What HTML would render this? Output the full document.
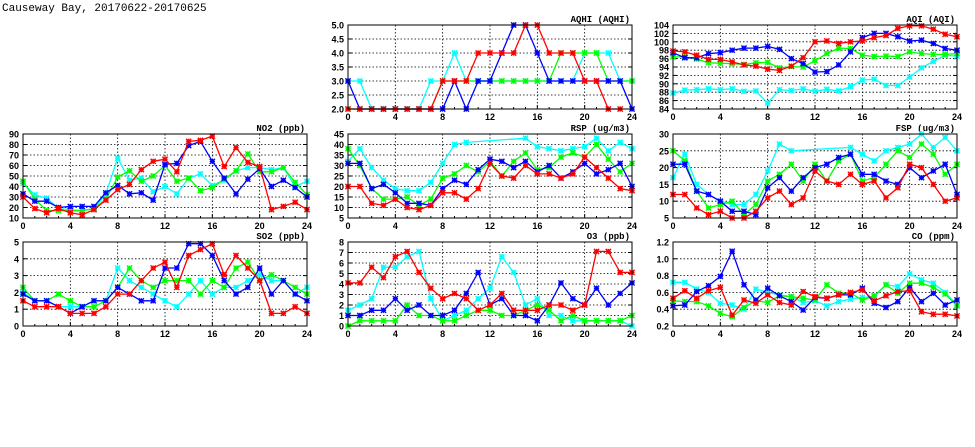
<!DOCTYPE html>
<html><head><meta charset="utf-8">
<style>
html,body{margin:0;padding:0;background:#fff;}
svg{display:block;font-family:"Liberation Sans",sans-serif;}
</style></head>
<body>
<svg id="c" width="975" height="447" viewBox="0 0 975 447">
<text x="2" y="11" font-family="Liberation Mono, monospace" font-size="11">Causeway Bay, 20170622-20170625</text>
</svg>
<script>
const hours = [0,1,2,3,4,5,6,7,8,9,10,11,12,13,14,15,16,17,18,19,20,21,22,23,24];
const xTicks = [0,4,8,12,16,20,24];
const seriesColors = ['#00ffff','#00ff00','#0000ff','#ff0000'];
const seriesNames = ['cyan','green','blue','red'];

const aqhiTicks = [2.0,2.5,3.0,3.5,4.0,4.5,5.0];
const aqhiRed   = [2,2,2,2,2,2,2,2,3,3,3,4,4,4,4,5,5,4,4,4,3,3,2,2,null];
const aqhiBlue  = [3,2,2,2,2,2,2,2,2,3,2,3,3,4,5,5,4,3,3,3,3,3,3,3,2];
const aqhiGreen = [2,2,2,2,2,2,2,2,3,3,3,3,3,3,3,3,3,3,4,4,4,4,3,3,3];
const aqhiCyan  = [3,3,2,2,2,2,2,3,3,4,3,3,3,3,3,3,3,3,3,3,4,4,4,3,3];

const aqiTicks = [84,86,88,90,92,94,96,98,100,102,104];
const aqiRed   = [97.8,97.6,96.8,95.8,95.8,95.2,94.5,94.2,93.5,93.2,94.2,96.2,100,100.2,99.6,100,100.2,101,101.5,103.2,103.8,103.8,103,101.8,101.2];
const aqiBlue  = [97.4,96.2,96.2,97.2,97.4,98,98.5,98.5,98.9,98.2,96,94.8,92.8,92.9,94.5,97.6,101,102,102,101.2,100.2,100.4,99.6,98.4,98];
const aqiGreen = [96.4,96.4,95.9,95,94.9,94.8,94.6,95,95.1,93.8,94.1,94,95.5,97.2,98.5,98.4,96.8,96.5,96.6,96.5,97.6,97.2,97,97,97.2];
const aqiCyan  = [87.8,88.5,88.6,88.8,88.6,88.8,88.2,88.3,85.4,88.6,88.4,88.8,88.2,88.7,88.3,89.3,90.9,91.1,89.6,89.6,91.6,93.8,95.3,96.8,96.6];

const no2Ticks = [10,20,30,40,50,60,70,80,90];
const no2Red   = [30,19,15,19,15,13,18,27,37,42,56,64,66,54,83,84,88,59,77,63,59,18,21,25,18];
const no2Blue  = [33,26,26,20,21,21,21,34,41,33,34,27,61,62,79,83,64,48,33,47,57,40,46,39,30];
const no2Green = [45,28,17,17,17,17,19,28,49,55,45,50,60,45,48,36,39,47,55,71,54,54,58,44,32];
const no2Cyan  = [43,32,29,19,18,17,19,33,67,46,48,35,40,33,48,52,41,46,55,58,58,56,58,40,45];

const rspTicks = [5,10,15,20,25,30,35,40,45];
const rspRed   = [20,20,12,11,14,10,9,11,17,17,14,19,31,25,24,30,26,26,24,26,34,29,24,19,18];
const rspBlue  = [31,31,19,21,17,12,12,11,19,23,21,28,33,32,29,32,27,30,24,27,31,26,28,31,20];
const rspGreen = [38,30,19,14,14,15,11,14,24,26,30,27,32,25,32,36,28,29,34,36,34,40,33,27,31];
const rspCyan  = [32,38,29,23,19,18,18,22,31,40,41,null,null,null,null,43,39,38,37,38,39,43,37,41,38];

const fspTicks = [5,10,15,20,25,30];
const fspRed   = [12,12,8,6,7,5,5,7,11,13,9,11,19,16,15,18,15,16,11,14,21,20,15,10,11];
const fspBlue  = [21,21,13,12,10,7,7,6,14,17,13,17,20,21,23,24,18,18,16,15,20,17,19,21,12];
const fspGreen = [25,22,13,8,9,10,6,9,16,18,21,16,21,16,22,24,16,17,21,25,23,27,24,18,21];
const fspCyan  = [17,24,15,12,10,9,9,12,19,27,25,null,null,null,null,26,24,22,25,26,27,30,26,29,25];

const so2Ticks = [0,1,2,3,4,5];
const so2Red   = [1.5,1.15,1.15,1.15,0.75,0.75,0.75,1.15,1.9,1.9,2.7,3.45,3.8,2.3,4.2,4.55,4.9,3.05,4.2,3.45,2.7,0.75,0.75,1.15,0.75];
const so2Blue  = [1.9,1.5,1.5,1.15,0.75,1.15,1.5,1.5,2.3,1.9,1.5,1.5,3.45,3.45,4.9,4.9,4.2,2.7,1.9,2.3,3.45,1.9,2.7,1.9,1.5];
const so2Green = [2.3,1.5,1.5,1.9,1.5,1.15,1.15,1.5,2.3,3.45,2.7,2.3,2.7,2.7,2.7,1.9,2.7,2.3,3.45,3.8,2.7,3.05,2.7,2.3,1.9];
const so2Cyan  = [2.0,1.5,1.5,1.15,1.15,1.15,1.5,1.5,3.45,2.7,2.3,1.9,1.5,1.15,1.9,2.7,1.9,2.3,2.3,2.7,3.05,2.7,2.7,1.9,2.3];

const o3Ticks = [0,1,2,3,4,5,6,7,8];
const o3Red   = [4.1,4.1,5.6,4.6,6.6,7.1,5.1,3.6,2.6,3.1,2.6,1.5,2.0,3.1,1.5,1.5,1.5,2.0,2.0,1.5,2.0,7.1,7.1,5.1,5.1];
const o3Blue  = [1.0,1.0,1.5,1.5,2.6,1.5,2.0,1.0,1.0,1.5,3.1,5.1,2.0,2.6,1.0,1.0,0.5,2.0,4.1,2.6,2.0,3.6,2.0,3.1,4.1];
const o3Green = [0,0.5,0.5,0.5,0.5,2.0,1.0,1.0,0.5,0.5,1.0,1.5,1.5,1.0,1.0,1.5,2.0,1.5,0.5,1.0,0.5,0.5,0.5,0.5,1.0];
const o3Cyan  = [1.5,2.0,2.6,5.6,5.6,6.6,7.1,2.6,0.5,1.0,1.5,2.6,3.6,6.6,5.1,2.0,2.6,1.0,1.0,0.5,0.5,0.5,0.5,0.5,0];

const coTicks = [0.2,0.4,0.6,0.8,1.0,1.2];
const coRed   = [.53,.62,.53,.62,.66,.33,.51,.47,.57,.48,.45,.61,.55,.53,.57,.6,.63,.5,.56,.61,.62,.37,.34,.34,.32];
const coBlue  = [.44,.45,.61,.68,.79,1.09,.69,.51,.65,.56,.49,.39,.54,.53,.57,.57,.65,.47,.42,.49,.66,.49,.59,.45,.51];
const coGreen = [.5,.49,.49,.44,.35,.31,.42,.5,.48,.56,.55,.53,.51,.69,.59,.59,.51,.56,.69,.59,.71,.71,.66,.58,.44];
const coCyan  = [.72,.72,.64,.6,.47,.45,.4,.64,.6,.57,.55,.48,.5,.44,.49,.52,.54,.55,.69,.67,.82,.75,.71,.6,.45];

const NS = 'http://www.w3.org/2000/svg';
const svg = document.getElementById('c');
const PW = 284, PH = 84;
const panels = [
  {id:'aqhi', title:'AQHI (AQHI)', left:348, top:25, ticks:aqhiTicks, dec:1, data:[aqhiCyan,aqhiGreen,aqhiBlue,aqhiRed]},
  {id:'aqi', title:'AQI (AQI)', left:673, top:25, ticks:aqiTicks, dec:0, data:[aqiCyan,aqiGreen,aqiBlue,aqiRed]},
  {id:'no2', title:'NO2 (ppb)', left:23, top:134, ticks:no2Ticks, dec:0, data:[no2Cyan,no2Green,no2Blue,no2Red]},
  {id:'rsp', title:'RSP (ug/m3)', left:348, top:134, ticks:rspTicks, dec:0, data:[rspCyan,rspGreen,rspBlue,rspRed]},
  {id:'fsp', title:'FSP (ug/m3)', left:673, top:134, ticks:fspTicks, dec:0, data:[fspCyan,fspGreen,fspBlue,fspRed]},
  {id:'so2', title:'SO2 (ppb)', left:23, top:242, ticks:so2Ticks, dec:0, data:[so2Cyan,so2Green,so2Blue,so2Red]},
  {id:'o3', title:'O3 (ppb)', left:348, top:242, ticks:o3Ticks, dec:0, data:[o3Cyan,o3Green,o3Blue,o3Red]},
  {id:'co', title:'CO (ppm)', left:673, top:242, ticks:coTicks, dec:1, data:[coCyan,coGreen,coBlue,coRed]}
];
function mk(tag, attrs, parent){
  const e = document.createElementNS(NS, tag);
  for (const k in attrs) e.setAttribute(k, attrs[k]);
  parent.appendChild(e);
  return e;
}
panels.forEach(p => {
  const g = mk('g', {}, svg);
  
  
  const ymin = p.ticks[0], ymax = p.ticks[p.ticks.length-1];
  const xs = h => p.left + h / 24 * PW;
  const ys = v => p.top + PH - (v - ymin) / (ymax - ymin) * PH;
  // grid
  p.ticks.forEach((t, i) => {
    const y = ys(t);
    if (i > 0 && i < p.ticks.length-1) {
      const l = mk('line', {x1:p.left, x2:p.left+PW, y1:y, y2:y, stroke:'#000', 'stroke-width':0.8, 'stroke-dasharray':'1.5,2'}, g);
      
      
    }
    mk('line', {x1:p.left, x2:p.left+4, y1:y, y2:y, stroke:'#000', 'stroke-width':1}, g);
    mk('line', {x1:p.left+PW-4, x2:p.left+PW, y1:y, y2:y, stroke:'#000', 'stroke-width':1}, g);
    const tx = mk('text', {x:p.left-4, y:y+3.5, 'text-anchor':'end', 'font-size':9, 'font-weight':'bold'}, g);
    tx.textContent = t.toFixed(p.dec);
    
    
  });
  xTicks.forEach((t, i) => {
    const x = xs(t);
    if (i > 0 && i < xTicks.length-1) {
      const l = mk('line', {x1:x, x2:x, y1:p.top, y2:p.top+PH, stroke:'#000', 'stroke-width':0.8, 'stroke-dasharray':'1.5,2'}, g);
      
      
    }
    const tx = mk('text', {x:x, y:p.top+PH+11, 'text-anchor':'middle', 'font-size':9, 'font-weight':'bold'}, g);
    tx.textContent = t;
    
    
  });
  hours.forEach(h => {
    mk('line', {x1:xs(h), x2:xs(h), y1:p.top+PH, y2:p.top+PH-(h%4===0?4:2), stroke:'#000', 'stroke-width':1}, g);
  });
  const tt = mk('text', {x:p.left+PW-2, y:p.top-3, 'text-anchor':'end', 'font-size':9, 'font-weight':'bold', 'font-family':'Liberation Mono, monospace'}, g);
  tt.textContent = p.title;
  
  
  // series
  p.data.forEach((arr, si) => {
    const col = seriesColors[si];
    const sg = mk('g', {}, g);
    
    
    let d = '';
    arr.forEach((v, i) => {
      if (v === null) return;
      d += (d ? 'L' : 'M') + xs(hours[i]).toFixed(1) + ',' + ys(v).toFixed(1);
    });
    const path = mk('path', {d:d, fill:'none', stroke:col, 'stroke-width':1.3}, sg);
    
    
    arr.forEach((v, i) => {
      if (v === null) return;
      const x = xs(hours[i]), y = ys(v), r = 2.6;
      const m = mk('path', {d:`M${x-r},${y-r}L${x+r},${y+r}M${x-r},${y+r}L${x+r},${y-r}M${x-r},${y}L${x+r},${y}M${x},${y-r}L${x},${y+r}`, stroke:col, 'stroke-width':1.4, fill:'none'}, sg);
      
      
    });
  });
  const fr = mk('rect', {x:p.left, y:p.top, width:PW, height:PH, fill:'none', stroke:'#000', 'stroke-width':1}, g);
  
  
});
</script>
</body></html>
